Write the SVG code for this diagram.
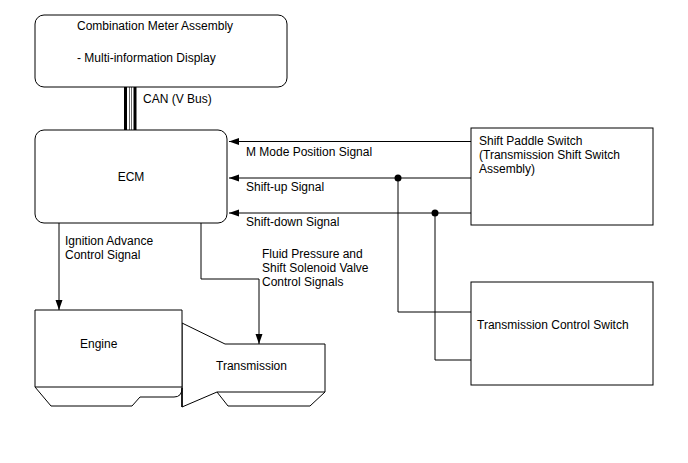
<svg xmlns="http://www.w3.org/2000/svg" width="688" height="463" viewBox="0 0 688 463">
<style>
text{font-family:"Liberation Sans",Arial,sans-serif;font-size:12px;fill:#000}
.box{fill:#fff;stroke:#000;stroke-width:1}
.ln{fill:none;stroke:#000;stroke-width:1}
</style>
<defs>
<marker id="ah" viewBox="0 0 10 10" refX="10" refY="5" markerWidth="10" markerHeight="10" markerUnits="userSpaceOnUse" orient="auto">
<path d="M0,1.5 L10,5 L0,8.5 Z" fill="#000"/>
</marker>
</defs>
<rect width="688" height="463" fill="#fff"/>
<g id="connectors">
<line x1="125.5" y1="87" x2="125.5" y2="130" stroke="#000" stroke-width="3"/>
<line x1="129.5" y1="87" x2="129.5" y2="130" stroke="#444" stroke-width="0.8"/>
<line x1="131.5" y1="87" x2="131.5" y2="130" stroke="#444" stroke-width="0.8"/>
<line x1="135" y1="87" x2="135" y2="130" stroke="#000" stroke-width="3"/>
<line class="ln" x1="471" y1="141.5" x2="229" y2="141.5" marker-end="url(#ah)"/>
<line class="ln" x1="471" y1="178" x2="229" y2="178" marker-end="url(#ah)"/>
<line class="ln" x1="471" y1="213" x2="229" y2="213" marker-end="url(#ah)"/>
<circle cx="398" cy="178" r="3.5" fill="#000"/>
<circle cx="435" cy="213" r="3.5" fill="#000"/>
<polyline class="ln" points="398,178 398,312 471,312"/>
<polyline class="ln" points="435,213 435,360 471,360"/>
<line class="ln" x1="59" y1="223" x2="59" y2="310" marker-end="url(#ah)"/>
<polyline class="ln" points="201,223 201,279 259,279 259,344" marker-end="url(#ah)"/>
</g>
<g id="combination-meter">
<rect class="box" x="35" y="15" width="252" height="72" rx="9"/>
<text x="77" y="30">Combination Meter Assembly</text>
<text x="77" y="62">- Multi-information Display</text>
</g>
<g id="can-label"><text x="143" y="103">CAN (V Bus)</text></g>
<g id="ecm">
<rect class="box" x="35" y="130" width="192" height="93" rx="9"/>
<text x="131" y="181" text-anchor="middle">ECM</text>
</g>
<g id="signal-labels">
<text x="246" y="156">M Mode Position Signal</text>
<text x="246" y="191">Shift-up Signal</text>
<text x="246" y="226">Shift-down Signal</text>
<text x="65" y="245">Ignition Advance</text>
<text x="65" y="259">Control Signal</text>
<text x="262" y="258">Fluid Pressure and</text>
<text x="262" y="272">Shift Solenoid Valve</text>
<text x="262" y="286">Control Signals</text>
</g>
<g id="shift-paddle-switch">
<rect class="box" x="471" y="128" width="182" height="97"/>
<text x="479" y="145">Shift Paddle Switch</text>
<text x="479" y="159">(Transmission Shift Switch</text>
<text x="479" y="173">Assembly)</text>
</g>
<g id="transmission-control-switch">
<rect class="box" x="471" y="282" width="182" height="103"/>
<text x="477" y="329">Transmission Control Switch</text>
</g>
<g id="transmission">
<path class="box" d="M182,323 L225,344 L325,344 L325,392 L310,406 L228,406 L217,392 L182,407 Z"/>
<line class="ln" x1="217" y1="392" x2="325" y2="392"/>
<text x="216" y="370">Transmission</text>
</g>
<g id="engine">
<path class="box" d="M35,310 L182,310 L182,407 L182,388 Q182,397 174,397 L140,397 L132,406 L51,406 L35,387 Z"/>
<line class="ln" x1="35" y1="387" x2="182" y2="387"/>
<text x="80" y="348">Engine</text>
</g>
</svg>
